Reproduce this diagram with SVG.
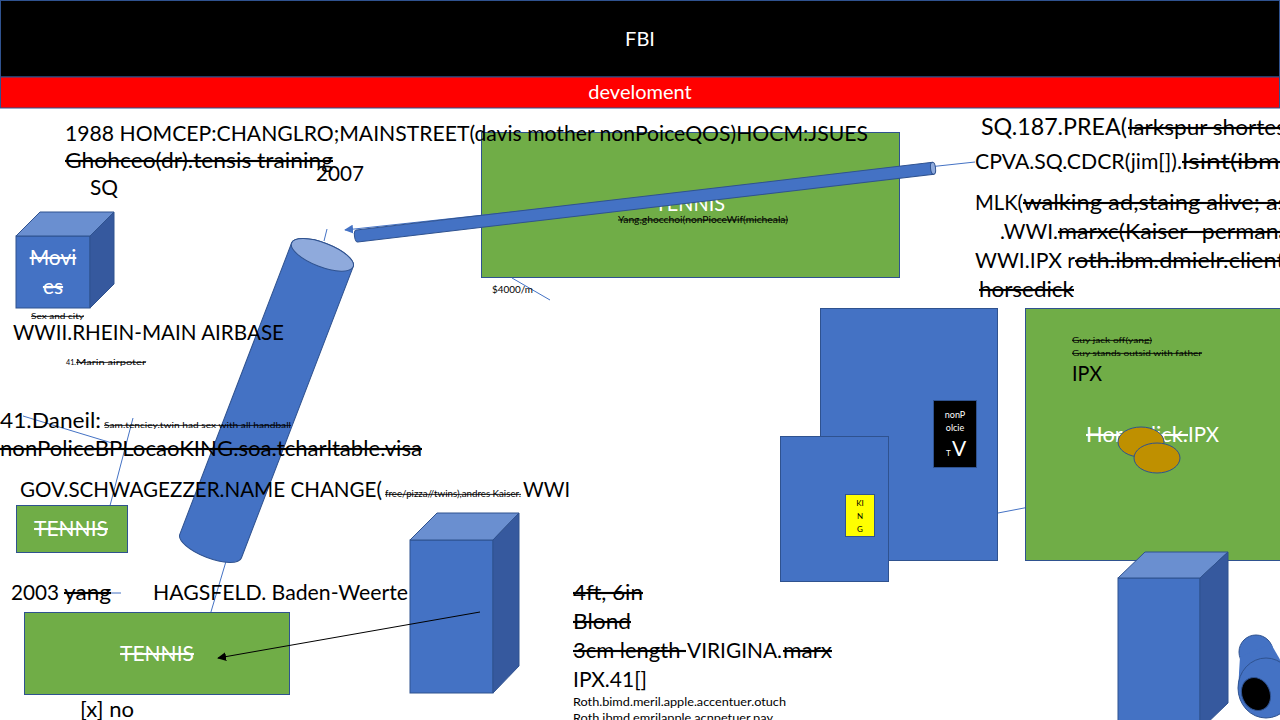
<svg xmlns="http://www.w3.org/2000/svg" width="1280" height="720" viewBox="0 0 1280 720">
<defs>
<style>
text{font-family:Lato,"Liberation Sans",sans-serif;fill:#000;}
.s{text-decoration:line-through;}
.w{fill:#fff;}
.f20{font-size:21px;}
.f8{font-size:8px;}
.f11{font-size:11px;}
.ln{stroke:#4472C4;stroke-width:1;fill:none;}
.bl{fill:#4472C4;stroke:#2F528F;stroke-width:1;}
.top{fill:#6A8FD0;stroke:#2F528F;stroke-width:1;}
.side{fill:#36599E;stroke:#2F528F;stroke-width:1;}
.gr{fill:#70AD47;stroke:#2F528F;stroke-width:1;}
</style>
<marker id="ab" viewBox="0 0 10 10" refX="9" refY="5" markerWidth="9" markerHeight="9" markerUnits="userSpaceOnUse" orient="auto"><path d="M0,0 L10,5 L0,10 z" fill="#4472C4"/></marker>
<marker id="ak" viewBox="0 0 10 10" refX="9" refY="5" markerWidth="9" markerHeight="9" markerUnits="userSpaceOnUse" orient="auto"><path d="M0,0 L10,5 L0,10 z" fill="#000"/></marker>
</defs>
<rect width="1280" height="720" fill="#fff"/>

<g id="header">
<rect x="0.5" y="0.5" width="1279" height="76.5" fill="#000" stroke="#2F528F"/>
<text class="w" x="640" y="46" font-size="20" text-anchor="middle">FBI</text>
<rect x="0.5" y="77" width="1279" height="31" fill="#FF0000" stroke="#2F528F"/>
<text class="w" x="640" y="99" font-size="20" text-anchor="middle">develoment</text>
</g>

<g id="tennis-top">
<rect class="gr" x="481.5" y="132.5" width="418" height="145"/>
<text class="w f20" x="655" y="211" textLength="70" lengthAdjust="spacingAndGlyphs">TENNIS</text>
<text class="s" x="618" y="223" font-size="9" textLength="170" lengthAdjust="spacingAndGlyphs">Yang,ghocchoi(nonPioceWif(micheala)</text>
</g>

<g id="connectors">
<line class="ln" x1="975" y1="162" x2="345" y2="230" marker-end="url(#ab)"/>
<line class="ln" x1="324" y1="241" x2="327" y2="229"/>
<line class="ln" x1="512" y1="278" x2="550" y2="300"/>
<line class="ln" x1="23" y1="416" x2="112" y2="443"/>
<line class="ln" x1="133" y1="418" x2="101" y2="540" marker-end="url(#ab)"/>
<line class="ln" x1="227" y1="558" x2="202" y2="642" marker-end="url(#ab)"/>
<line class="ln" x1="106" y1="593" x2="121" y2="593"/>
</g>

<g id="pipe" transform="translate(357,236) rotate(-6.7)">
<path class="bl" d="M0,-6 L580,-6 L580,6 L0,6 A2.5 6 0 0 1 0,-6 Z"/>
<ellipse cx="580" cy="0" rx="2.5" ry="6" fill="#8FAADC" stroke="#2F528F"/>
</g>

<g id="cylinder" transform="translate(266.5,400.5) rotate(21)">
<path class="bl" d="M-33,-156 L-33,156 A33 12 0 0 0 33,156 L33,-156 A33 12 0 0 0 -33,-156 Z"/>
<ellipse cx="0" cy="-156" rx="33" ry="12" fill="#8FAADC" stroke="#2F528F"/>
</g>

<g id="top-text">
<text class="f20" x="65" y="141" textLength="803" lengthAdjust="spacingAndGlyphs">1988 HOMCEP:CHANGLRO;MAINSTREET(davis mother nonPoiceQOS)HOCM:JSUES</text>
<text class="f20 s" x="65" y="168" textLength="268" lengthAdjust="spacingAndGlyphs">Ghohceo(dr).tensis training</text>
<text class="f20" x="316" y="181" textLength="48" lengthAdjust="spacingAndGlyphs">2007</text>
<text class="f20" x="90" y="195" textLength="28" lengthAdjust="spacingAndGlyphs">SQ</text>
<text x="492" y="293" font-size="10" textLength="41" lengthAdjust="spacingAndGlyphs">$4000/m</text>
</g>

<g id="movies">
<rect class="bl" x="16" y="236" width="74" height="72"/>
<polygon class="top" points="16,236 40,212 114,212 90,236"/>
<polygon class="side" points="90,236 114,212 114,284 90,308"/>
<text class="w s f20" x="53" y="265" text-anchor="middle">Movi</text>
<text class="w s f20" x="53" y="294" text-anchor="middle">es</text>
<text class="s f8" x="31" y="319" textLength="53" lengthAdjust="spacingAndGlyphs">Sex and city</text>
</g>

<g id="left-text">
<text class="f20" x="13" y="340" textLength="271" lengthAdjust="spacingAndGlyphs">WWII.RHEIN-MAIN AIRBASE</text>
<text class="f8" x="66" y="365" textLength="10" lengthAdjust="spacingAndGlyphs">41.</text>
<text class="f8 s" x="76" y="365" textLength="70" lengthAdjust="spacingAndGlyphs">Marin airpoter</text>
<text class="f20" x="0" y="428" textLength="101" lengthAdjust="spacingAndGlyphs">41.Daneil:</text>
<text class="f8 s" x="104" y="428" textLength="187" lengthAdjust="spacingAndGlyphs">Sam.tenciey.twin had sex with all handball</text>
<text class="f20 s" x="0" y="456" textLength="422" lengthAdjust="spacingAndGlyphs">nonPoliceBPLocaoKING.soa.tcharltable.visa</text>
<text class="f20" x="20" y="497" textLength="362" lengthAdjust="spacingAndGlyphs">GOV.SCHWAGEZZER.NAME CHANGE(</text>
<text class="s" x="385" y="497" font-size="8.5" textLength="136" lengthAdjust="spacingAndGlyphs">free/pizza//twins),andres Kaiser.</text>
<text class="f20" x="523" y="497" textLength="47" lengthAdjust="spacingAndGlyphs">WWI</text>
</g>

<g id="tennis-small">
<rect class="gr" x="16.5" y="505.5" width="111" height="47"/>
<text class="w s f20" x="71" y="536" text-anchor="middle">TENNIS</text>
</g>

<g id="bottom-left-text">
<text class="f20" x="11" y="600" textLength="48" lengthAdjust="spacingAndGlyphs">2003</text>
<text class="f20 s" x="64" y="600" textLength="47" lengthAdjust="spacingAndGlyphs">yang</text>
<text class="f20" x="153" y="600" textLength="255" lengthAdjust="spacingAndGlyphs">HAGSFELD. Baden-Weerte</text>
<text class="f20" x="80" y="717" textLength="54" lengthAdjust="spacingAndGlyphs">[x] no</text>
</g>

<g id="tennis-bottom">
<rect class="gr" x="24.5" y="612.5" width="265" height="82"/>
<text class="w s f20" x="157" y="661" text-anchor="middle">TENNIS</text>
</g>

<g id="cube-mid">
<rect class="bl" x="410" y="540" width="83" height="153"/>
<polygon class="top" points="410,540 437,513 519,513 493,540"/>
<polygon class="side" points="493,540 519,513 519,666 493,693"/>
</g>
<g id="connector-black">
<line x1="480" y1="612" x2="218" y2="658" stroke="#000" stroke-width="1" marker-end="url(#ak)"/>
</g>

<g id="mid-text">
<text class="f20 s" x="573" y="600" textLength="70" lengthAdjust="spacingAndGlyphs">4ft, 6in</text>
<text class="f20 s" x="573" y="629" textLength="58" lengthAdjust="spacingAndGlyphs">Blond</text>
<text class="f20 s" x="573" y="658" textLength="113" lengthAdjust="spacingAndGlyphs">3cm length&#160;</text>
<text class="f20" x="687" y="658" textLength="95" lengthAdjust="spacingAndGlyphs">VIRIGINA.</text>
<text class="f20 s" x="783" y="658" textLength="49" lengthAdjust="spacingAndGlyphs">marx</text>
<text class="f20" x="573" y="687" textLength="74" lengthAdjust="spacingAndGlyphs">IPX.41[]</text>
<text class="f11" x="573" y="706" textLength="213" lengthAdjust="spacingAndGlyphs">Roth.bimd.meril.apple.accentuer.otuch</text>
<text class="f11" x="573" y="722" textLength="200" lengthAdjust="spacingAndGlyphs">Roth.ibmd.emrilapple.acnpetuer.pay</text>
</g>

<g id="right-text">
<text x="981" y="135" font-size="24" textLength="146" lengthAdjust="spacingAndGlyphs">SQ.187.PREA(</text>
<text class="f20 s" x="1128" y="135" textLength="158" lengthAdjust="spacingAndGlyphs">larkspur shortes</text>
<text class="f20" x="975" y="169" textLength="207" lengthAdjust="spacingAndGlyphs">CPVA.SQ.CDCR(jim[]).</text>
<text class="f20 s" x="1182" y="169" textLength="104" lengthAdjust="spacingAndGlyphs">lsint(ibm.</text>
<text class="f20" x="975" y="210" textLength="48" lengthAdjust="spacingAndGlyphs">MLK(</text>
<text class="f20 s" x="1023" y="210" textLength="265" lengthAdjust="spacingAndGlyphs">walking ad,staing alive; as</text>
<text class="f20" x="1000" y="239" textLength="58" lengthAdjust="spacingAndGlyphs">.WWI.</text>
<text class="f20 s" x="1058" y="239" textLength="232" lengthAdjust="spacingAndGlyphs">marxc(Kaiser- permana</text>
<text class="f20" x="975" y="268" textLength="100" lengthAdjust="spacingAndGlyphs">WWI.IPX r</text>
<text class="f20 s" x="1075" y="268" textLength="210" lengthAdjust="spacingAndGlyphs">oth.ibm.dmielr.client</text>
<text class="f20 s" x="979" y="297" textLength="95" lengthAdjust="spacingAndGlyphs">horsedick</text>
</g>

<g id="nonpolice-box">
<rect class="bl" x="820.5" y="308.5" width="177" height="252"/>
<rect x="933.5" y="400.5" width="43" height="67" fill="#000" stroke="#2F528F"/>
<text class="w" x="955" y="418" font-size="9" text-anchor="middle">nonP</text>
<text class="w" x="955" y="431" font-size="9" text-anchor="middle">olcie</text>
<text class="w" x="946" y="456" font-size="8">T</text>
<text class="w" x="952" y="456" font-size="21">V</text>
</g>

<g id="king-box">
<rect class="bl" x="780.5" y="436.5" width="108" height="145"/>
<rect x="845.5" y="494.5" width="29" height="42" fill="#FFFF00" stroke="#2F528F"/>
<text x="860" y="506" font-size="8" text-anchor="middle">KI</text>
<text x="860" y="519" font-size="8" text-anchor="middle">N</text>
<text x="860" y="532" font-size="8" text-anchor="middle">G</text>
</g>
<g id="connector-ipx">
<line class="ln" x1="998" y1="513" x2="1165" y2="481" marker-end="url(#ab)"/>
</g>

<g id="ipx-box">
<rect class="gr" x="1025.5" y="308.5" width="260" height="252"/>
<text class="f8 s" x="1072" y="343" textLength="80" lengthAdjust="spacingAndGlyphs">Guy jack off(yang)</text>
<text class="f8 s" x="1072" y="356" textLength="130" lengthAdjust="spacingAndGlyphs">Guy stands outsid with father</text>
<text class="f20" x="1072" y="381" textLength="30" lengthAdjust="spacingAndGlyphs">IPX</text>
<text class="f20 w s" x="1086" y="442" textLength="102" lengthAdjust="spacingAndGlyphs">Horsedick.</text>
<text class="f20 w" x="1188" y="442" textLength="31" lengthAdjust="spacingAndGlyphs">IPX</text>
<ellipse cx="1141" cy="442" rx="23" ry="15" fill="#BF9000" stroke="#2F528F"/>
<ellipse cx="1157" cy="458" rx="23" ry="15" fill="#BF9000" stroke="#2F528F"/>
</g>

<g id="cube-right">
<rect class="bl" x="1118" y="578" width="82" height="152"/>
<polygon class="top" points="1118,578 1145,552 1228,552 1200,578"/>
<polygon class="side" points="1200,578 1228,552 1228,703 1200,730"/>
</g>

<g id="can">
<circle class="bl" cx="1256" cy="652" r="17"/>
<polygon points="1240,657 1271,644 1292,680 1238,690" fill="#4472C4"/>
<ellipse class="bl" cx="1266" cy="688" rx="28" ry="30"/>
<ellipse cx="1256" cy="694" rx="14" ry="17" transform="rotate(-25 1256 694)" fill="#000" stroke="#2F528F"/>
</g>
</svg>
